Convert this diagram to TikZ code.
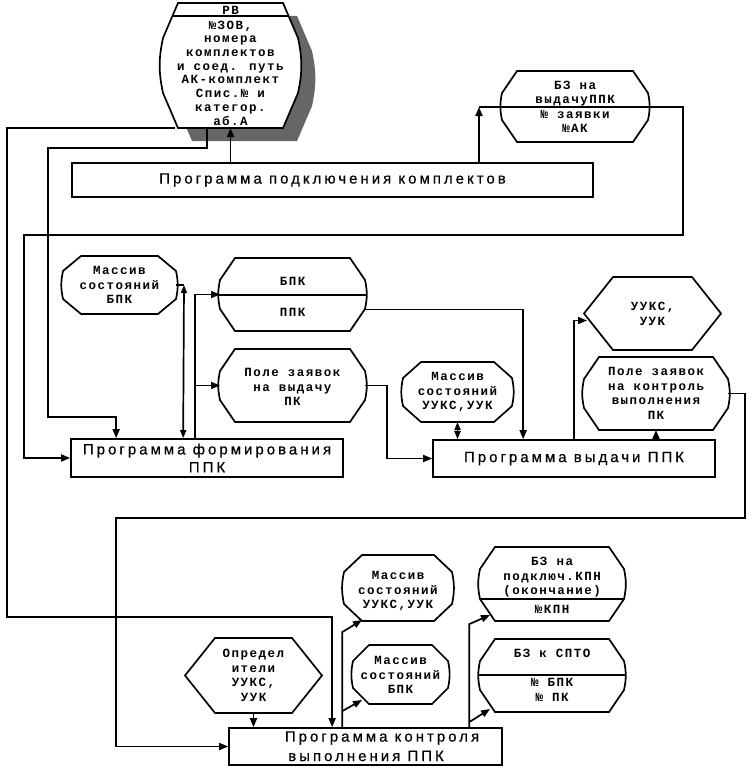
\documentclass[tikz,border=0pt]{standalone}
\usepackage{fontspec}
\usetikzlibrary{arrows.meta,calc}
\newfontfamily\monof{Liberation Mono}[LetterSpace=12]
\newfontfamily\boxf{Liberation Sans}[LetterSpace=20,FakeBold=0.5]
\pgfdeclarelayer{bg}
\pgfsetlayers{bg,main}
\tikzset{
 ln/.style={line width=1.7pt},
 arr/.style={ln,-{Triangle[length=9pt,width=7pt]}},
 arrb/.style={ln,{Triangle[length=8pt,width=6pt]}-{Triangle[length=8pt,width=6pt]}},
 shp/.style={line width=1.7pt, fill=white, draw=black},
 area/.style={inner sep=0pt, outer sep=0pt, draw=none, align=center, font=\monof\bfseries\fontsize{12.5}{14.5}\selectfont},
 sz/.style n args={2}{minimum width=#1pt, minimum height=#2pt},
 tx/.style={inner sep=0pt, align=center, font=\monof\bfseries\fontsize{12.5}{14.5}\selectfont},
 prog/.style={draw, ln, fill=white, inner sep=0pt, align=center, font=\boxf\fontsize{15}{18}\selectfont},
}
\newcommand\storeout[4][]{%
 \draw[shp,#1] ($(#2.north west)+(#3,0)$) -- ($(#2.north east)+(-#3,0)$) -- ($(#2.north east)+(0,#4)$) to[bend left=12] ($(#2.south east)+(0,-#4)$) -- ($(#2.south east)+(-#3,0)$) -- ($(#2.south west)+(#3,0)$) -- ($(#2.south west)+(0,-#4)$) to[bend left=12] ($(#2.north west)+(0,#4)$) -- cycle;}
\newcommand\hexout[2]{%
 \draw[shp] ($(#1.north west)+(#2,0)$) -- ($(#1.north east)+(-#2,0)$) -- (#1.east) -- ($(#1.south east)+(-#2,0)$) -- ($(#1.south west)+(#2,0)$) -- (#1.west) -- cycle;}
\begin{document}
\begin{tikzpicture}[x=1pt,y=-1pt]
\useasboundingbox (0,0) rectangle (748,768);
% shape areas
\node[area,sz={135}{125}] (rbsh) at (244.5,78.5) {};
\node[area,sz={135}{125}] (rb) at (230.5,65.5) {};
\node[area,sz={146}{71}] (bz1) at (575,106.5) {};
\node[area,sz={113}{58}] (mb1) at (119.5,285) {};
\node[area,sz={145}{73}] (bp) at (292.5,294.5) {};
\node[area,sz={145}{73}] (pz) at (292.5,385.5) {};
\node[area,sz={109}{60}] (mu1) at (457.5,392) {};
\node[area,sz={137}{73}] (hx1) at (652.5,313.5) {};
\node[area,sz={144}{73}] (pk2) at (656,393.5) {};
\node[area,sz={108}{66}] (mu2) at (398,588) {};
\node[area,sz={95}{59}] (mb2) at (400.5,674.5) {};
\node[area,sz={137}{75}] (hx2) at (253.5,675.5) {};
\node[area,sz={144}{74}] (bzk) at (552,584) {};
\node[area,sz={144}{73}] (bzs) at (552,675.5) {};
% outlines
\begin{pgfonlayer}{bg}
\storeout[fill=black!60,draw=none]{rbsh}{15}{35}
\storeout{rb}{15}{35}
\draw[ln] ($(rb.north west)+(9,13)$) -- ($(rb.north east)+(-9,13)$);
\storeout{bz1}{15}{22}
\storeout{mb1}{18}{15}
\storeout{bp}{15}{22}
\draw[ln] ($(bp.north west)+(-2,37)$) -- ($(bp.north east)+(2,37)$);
\storeout{pz}{15}{22}
\storeout{mu1}{18}{16}
\hexout{hx1}{29}
\storeout{pk2}{15}{22}
\storeout{mu2}{18}{17}
\storeout{mb2}{16}{16}
\hexout{hx2}{30}
\storeout{bzk}{15}{22}
\draw[ln] ($(bzk.north west)+(0,52)$) -- ($(bzk.north east)+(0,52)$);
\storeout{bzs}{15}{22}
\draw[ln] ($(bzs.north west)+(-2,36)$) -- ($(bzs.north east)+(2,36)$);
\end{pgfonlayer}
% texts
\node[tx] (rbh) at (230.5,10) {РВ};
\node[tx,font=\monof\bfseries\fontsize{12.5}{13.7}\selectfont] (rbt) at (230.5,73) {№ЗОВ,\\номера\\комплектов\\и соед. путь\\АК-комплект\\Спис.№ и\\категор.\\аб.А};
\node[tx] (bz1t) at (575,107) {БЗ на\\выдачуППК\\№ заявки\\№АК};
\node[tx] (mb1t) at (119.5,285) {Массив\\состояний\\БПК};
\node[tx] (bpa) at (292.5,281) {БПК};
\node[tx] (bpb) at (292.5,312) {ППК};
\node[tx] (pzt) at (292.5,387) {Поле заявок\\на выдачу\\ПК};
\node[tx] (mu1t) at (457.5,392) {Массив\\состояний\\УУКС,УУК};
\node[tx] (hx1t) at (652.5,314) {УУКС,\\УУК};
\node[tx] (pk2t) at (656,393.5) {Поле заявок\\на контроль\\выполнения\\ПК};
\node[tx] (mu2t) at (398,591) {Массив\\состояний\\УУКС,УУК};
\node[tx] (mb2t) at (400.5,675) {Массив\\состояний\\БПК};
\node[tx] (hx2t) at (253.5,675.5) {Определ\\ители\\УУКС,\\УУК};
\node[tx] (bzka) at (552,577.5) {БЗ на\\подключ.КПН\\(окончание)};
\node[tx] (bzkb) at (552,609) {№КПН};
\node[tx] (bzsa) at (552,653) {БЗ к СПТО};
\node[tx] (bzsb) at (552,690) {№ БПК\\№ ПК};
% program boxes
\node[prog,sz={521}{34}] (pk) at (332.5,180) {Программа подключения комплектов};
\node[prog,sz={272}{38}] (form) at (207,458) {Программа формирования\\ППК};
\node[prog,sz={282}{37}] (vyd) at (574,458.5) {Программа выдачи ППК};
\node[prog,sz={273}{37}] (ctrl) at (365.5,746.5) {};
\node[inner sep=0pt, font=\boxf\fontsize{15}{18}\selectfont] (ctrla) at (382,738) {Программа контроля};
\node[inner sep=0pt, font=\boxf\fontsize{15}{18}\selectfont] (ctrlb) at (366,756) {выполнения ППК};
\coordinate (j1) at (479,107);
% connectors
\draw[arr] (pk.north -| rb.south) -- (rb.south);
\draw[arr] (pk.north -| j1) -- (j1);
\draw[arr] (j1) -- (683,107) |- (24,235) |- (form.west);
\draw[arr] ($(rb.south west)+(12,0)$) -| (7,617) -| ($(ctrl.north west)+(104,0)$);
\draw[arr] ($(rb.south)+(-23.5,0)$) -- ++(0,20) -| (48,417) -| ($(form.north west)+(46,0)$);
\draw[ln] (mb1.east) -- (184,285);
\draw[arrb] (184,285) -- ($(form.north west)+(113,0)$);
\draw[arr] ($(form.north west)+(125,0)$) |- (bp.west);
\draw[arr] ($(pz.west)+(-24,0)$) -- (pz.west);
\draw[arr] ($(bp.east)+(0,15)$) -| ($(vyd.north west)+(91,0)$);
\draw[arr] (pz.east) -- ++(22,0) |- (vyd.west);
\draw[arrb] (mu1.south) -- (mu1.south |- vyd.north);
\draw[arr] ($(vyd.north west)+(142,0)$) |- ($(hx1.west)+(3,7)$);
\draw[arr] (vyd.north -| pk2.south) -- (pk2.south);
\draw[arr] (pk2.east) -- (745,393.5) |- (116,518) |- (ctrl.west);
\draw[arr] (hx2.south) -- (hx2.south |- ctrl.north);
\draw[arr] ($(ctrl.north west)+(114,0)$) -- ++(0,-95) -- ($(mu2.south west)+(18,-1)$);
\draw[arr] ($(ctrl.north west)+(114,-16)$) -- ($(mb2.south west)+(9,-4)$);
\draw[arr] ($(ctrl.north west)+(241,0)$) -- ++(0,-103) -- ($(bzk.south west)+(10,-6)$);
\draw[arr] ($(ctrl.north west)+(241,-5)$) -- ($(bzs.south west)+(10,-3)$);
\end{tikzpicture}
\end{document}
